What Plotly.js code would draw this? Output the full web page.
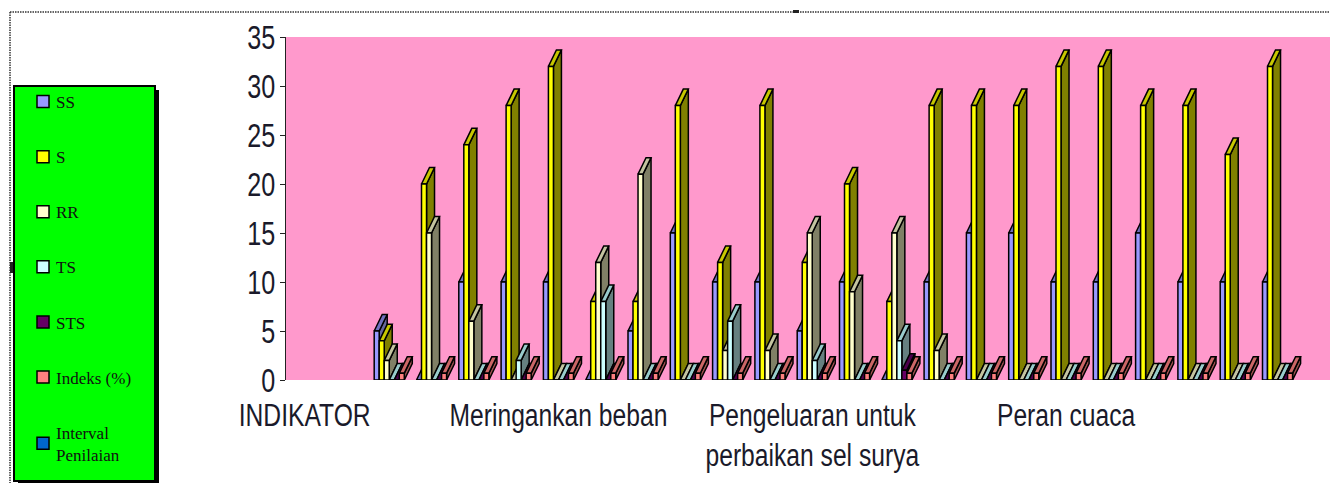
<!DOCTYPE html>
<html>
<head>
<meta charset="utf-8">
<script src="https://cdn.plot.ly/plotly-3.0.1.min.js"></script>
<style>html,body{margin:0;padding:0;background:#fff;overflow:hidden}</style>
</head>
<body>
<div id="chart" style="width:1330px;height:483px"></div>
<script>
// ---- data ----
const categories = ["INDIKATOR","","","","","","Meringankan beban","","","","","","Pengeluaran untuk<br>perbaikan sel surya","","","","","","Peran cuaca","","","","",""];
const SS    = [null,null,5,0,10,10,10,0,5,15,10,10,5,10,0,10,15,15,10,10,15,10,10,10];
const S     = [null,null,4,20,24,28,32,8,8,28,12,28,12,20,8,28,28,28,32,32,28,28,23,32];
const RR    = [null,null,2,15,6,0,0,12,21,0,3,3,15,9,15,3,0,0,0,0,0,0,0,0];
const TS    = [null,null,0,0,0,2,0,8,0,0,6,0,2,0,4,0,0,0,0,0,0,0,0,0];
const STS   = [null,null,0,0,0,0,0,0,0,0,0,0,0,0,1,0,0,0,0,0,0,0,0,0];
const Indeks= [null,null,0.7,0.7,0.7,0.7,0.7,0.7,0.7,0.7,0.7,0.7,0.7,0.7,0.7,0.7,0.7,0.7,0.7,0.7,0.7,0.7,0.7,0.7];
const Interval = categories.map(() => null);
const seriesNames = ["SS","S","RR","TS","STS","Indeks (%)","Interval<br>Penilaian"];
const seriesValues = [SS,S,RR,TS,STS,Indeks,Interval];
const frontColors = ["#9999ff","#ffff00","#ffffcc","#ccffff","#660066","#ff8080","#0066cc"];
const topColors   = ["#7070c0","#c8c800","#c4c4a0","#99cccc","#4d004d","#cc6666","#004d99"];
const sideColors  = ["#66669a","#808000","#808066","#668080","#330033","#a05050","#003366"];

// ---- geometry ----
const W = 1330, H = 483, L = 286, R = 1330, T = 37, B = 380;
const catPx = 42.3;
const xRange = [-0.5, -0.5 + (R - L) / catPx];
const yMax = 35;
const bargap = 0.17;
const barW = (1 - bargap) / seriesNames.length;
const depthX = 8 / catPx;
const depthY = 16.5 / ((B - T) / yMax);
const px = x => (x - L) / (R - L);
const py = y => (B - y) / (B - T);

const positions = categories.map((_, k) => k);
const traces = [];
// receding faces, painted left to right under the fronts
seriesValues.forEach((vals, i) => {
  const sx = [], sy = [], tx = [], ty = [];
  vals.forEach((v, k) => {
    if (v === null) return;
    const x0 = k + (i - seriesNames.length / 2) * barW, x1 = x0 + barW;
    sx.push(x1, x1 + depthX, x1 + depthX, x1, x1, null);
    sy.push(0, depthY, v + depthY, v, 0, null);
    tx.push(x0, x1, x1 + depthX, x0 + depthX, x0, null);
    ty.push(v, v, v + depthY, v + depthY, v, null);
  });
  if (!sx.length) return;
  [[sx, sy, sideColors[i]], [tx, ty, topColors[i]]].forEach(f => traces.push({
    type: "scatter", mode: "lines", x: f[0], y: f[1], xaxis: "x", yaxis: "y",
    fill: "toself", fillcolor: f[2], line: {color: "#000", width: 1.5},
    showlegend: false, hoverinfo: "skip"
  }));
});
// front faces
seriesValues.forEach((vals, i) => traces.push({
  type: "bar", name: seriesNames[i], x: positions, y: vals, xaxis: "x", yaxis: "y2",
  legendgroup: "g" + i,
  marker: {color: frontColors[i], line: {color: "#000", width: 1.5}}
}));

const sansFont = {family: '"Liberation Sans",sans-serif', color: "#1a1a2a"};
const layout = {
  width: W, height: H,
  margin: {l: L, r: W - R, t: T, b: H - B, pad: 0, autoexpand: false},
  paper_bgcolor: "#fff", plot_bgcolor: "#ff99cc",
  barmode: "group", bargap: bargap, bargroupgap: 0,
  xaxis: {range: xRange, tickmode: "array", tickvals: positions, ticktext: categories,
          showgrid: false, zeroline: false, showline: false, ticks: "", tickangle: 0,
          ticklabelstandoff: 14,
          tickfont: Object.assign({}, sansFont, {size: 31})},
  yaxis: {range: [0, yMax], tick0: 0, dtick: 5, showgrid: false, zeroline: false,
          showline: true, linecolor: "#222", linewidth: 1, ticks: "outside", ticklen: 5,
          tickcolor: "#222", tickfont: Object.assign({}, sansFont, {size: 34})},
  yaxis2: {range: [0, yMax], overlaying: "y", visible: false, fixedrange: true},
  legend: {x: px(16), y: py(84), xanchor: "left", yanchor: "top", bgcolor: "rgba(0,0,0,0)",
           borderwidth: 0, tracegroupgap: 30, entrywidth: 107,
           itemclick: false, traceorder: "grouped", indentation: 0, maxheight: 420,
           font: {family: '"Liberation Serif",serif', size: 17, color: "#111"}},
  shapes: [
    {type: "rect", xref: "paper", yref: "paper", x0: px(18), x1: px(159), y0: py(90), y1: py(485),
     fillcolor: "#000", line: {width: 0}, layer: "below"},
    {type: "rect", xref: "paper", yref: "paper", x0: px(14), x1: px(155), y0: py(86), y1: py(481),
     fillcolor: "#00ff00", line: {color: "#000", width: 2}, layer: "below"},
    {type: "line", xref: "paper", yref: "paper", x0: px(10), x1: px(1330), y0: py(12), y1: py(12),
     line: {color: "#333", width: 1.5, dash: "1.5px,1px"}},
    {type: "line", xref: "paper", yref: "paper", x0: px(10), x1: px(10), y0: py(12), y1: py(483),
     line: {color: "#333", width: 1.5, dash: "1.5px,1px"}},
    {type: "rect", xref: "paper", yref: "paper", x0: px(793), x1: px(799), y0: py(10), y1: py(13),
     fillcolor: "#222", line: {width: 0}},
    {type: "rect", xref: "paper", yref: "paper", x0: px(10), x1: px(13), y0: py(262), y1: py(273),
     fillcolor: "#222", line: {width: 0}}
  ],
  showlegend: true
};

// the reference's axis lettering is tall and condensed: squeeze it horizontally
function condense(selector, factor, anchorRight, shift) {
  document.querySelectorAll(selector).forEach(t => {
    const b = t.getBBox();
    const cx = anchorRight ? b.x + b.width : b.x + b.width / 2;
    const old = t.getAttribute("transform") || "";
    t.setAttribute("transform", old + ` translate(${cx + shift},0) scale(${factor},1) translate(${-cx},0)`);
  });
}
Plotly.newPlot("chart", traces, layout, {displayModeBar: false, staticPlot: true}).then(() => {
  condense("#chart .xtick text", 0.795, false, -2.5);
  condense("#chart .ytick text", 0.74, true, 2);
  document.querySelectorAll("#chart .legend .legendsymbols").forEach(g => g.setAttribute("transform", "translate(7,0)"));
});
</script>
</body>
</html>
